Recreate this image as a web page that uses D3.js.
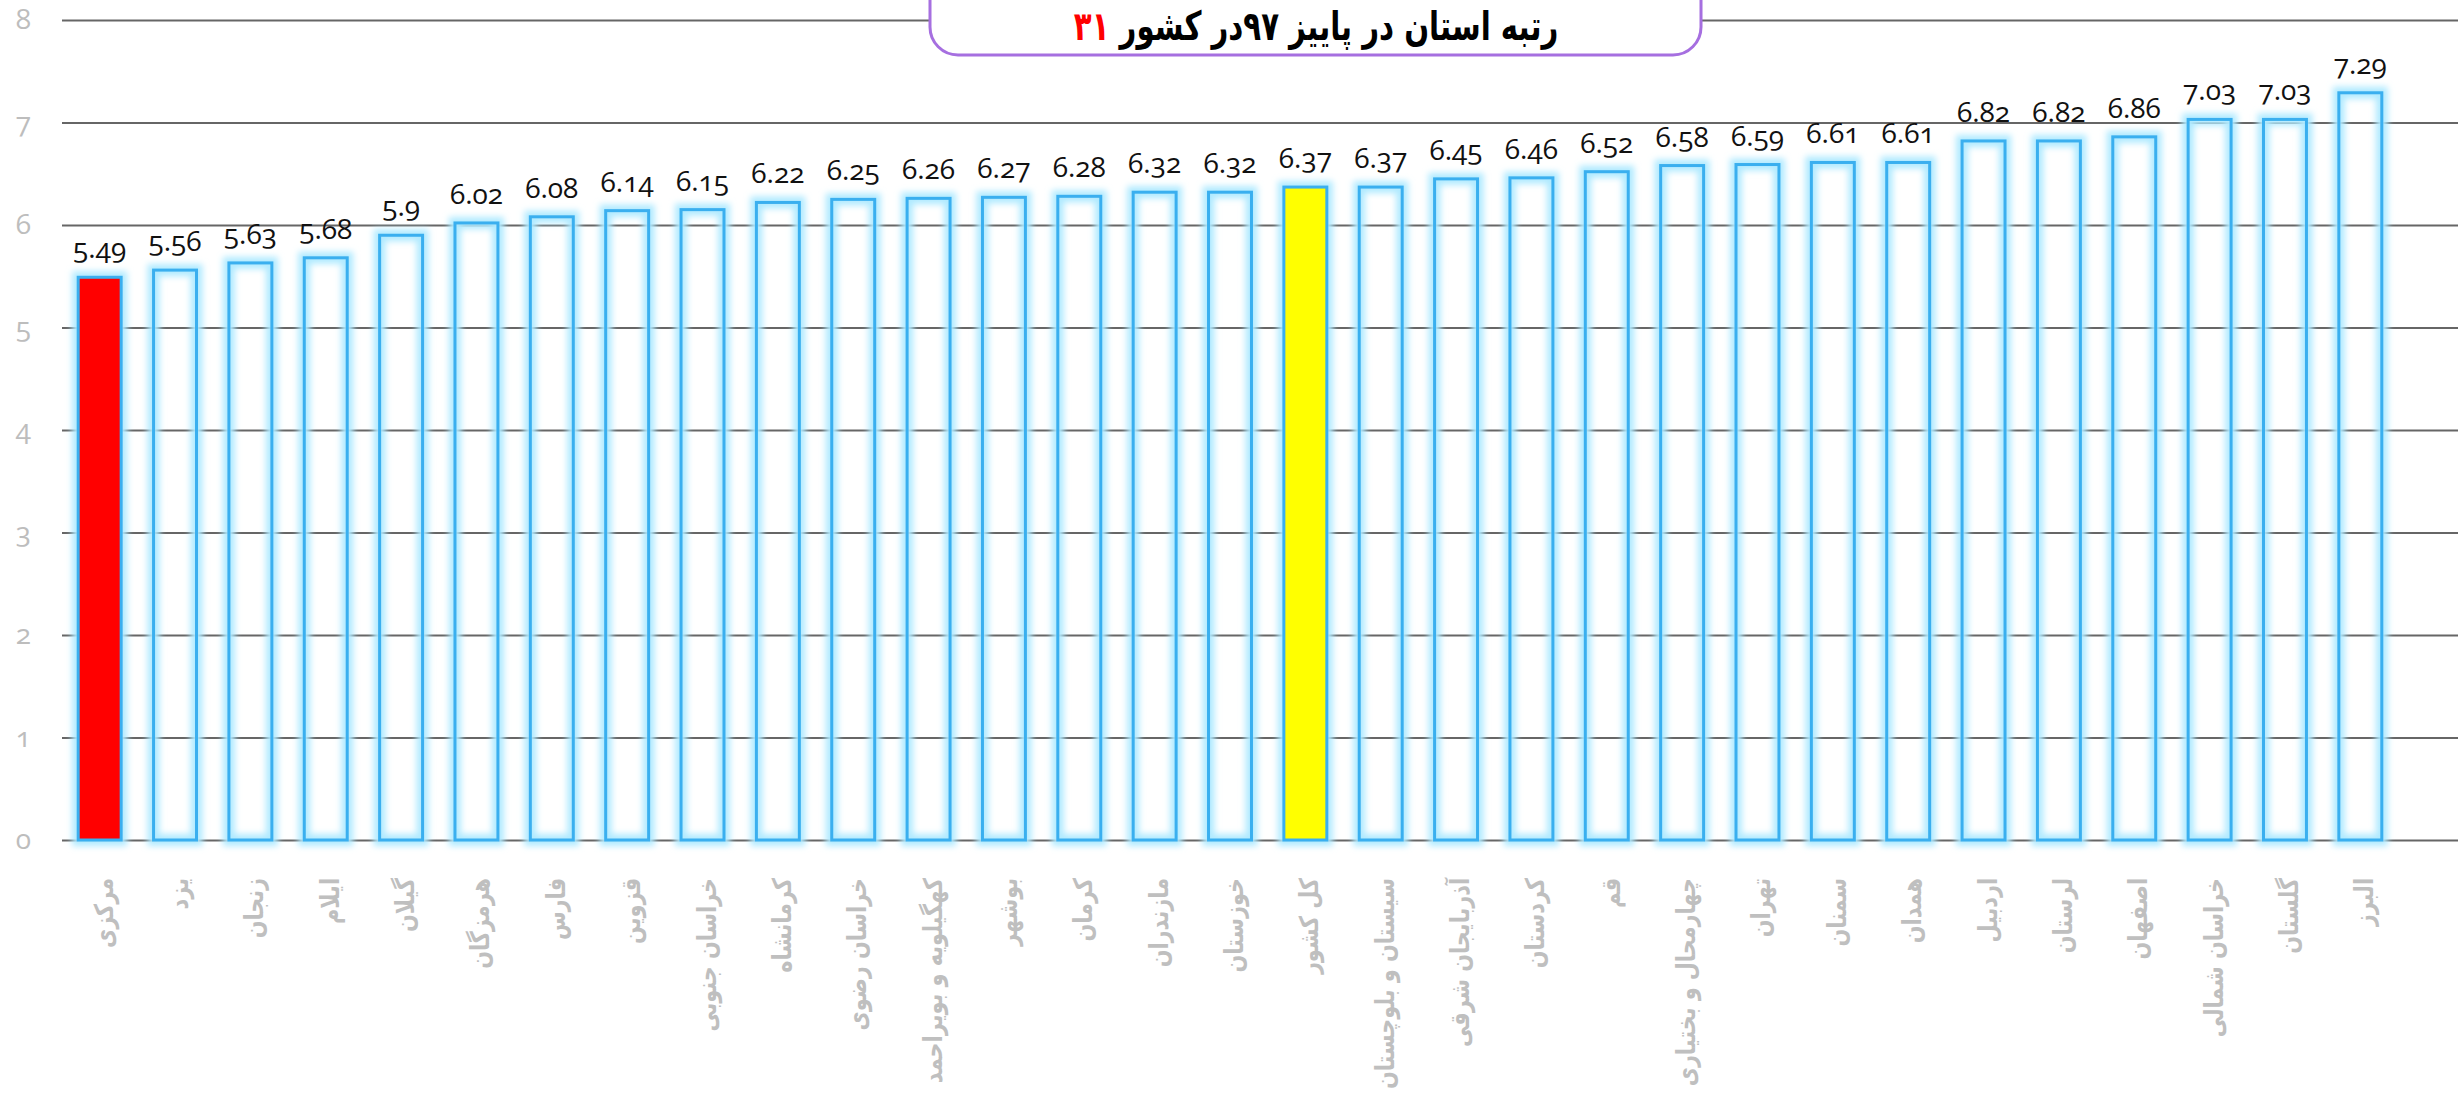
<!DOCTYPE html>
<html>
<head>
<meta charset="utf-8">
<script src="https://cdn.jsdelivr.net/npm/d3@7"></script>
<style>
  body { margin: 0; background: #fff; }
  svg { display: block; }
</style>
</head>
<body>
<script>
// provinces, sorted by score (left to right)
var provinces = ["مرکزی", "یزد", "زنجان", "ایلام", "گیلان", "هرمزگان", "فارس", "قزوین",
  "خراسان جنوبی", "کرمانشاه", "خراسان رضوی", "کهگیلویه و بویراحمد", "بوشهر", "کرمان",
  "مازندران", "خوزستان", "کل کشور", "سیستان و بلوچستان", "آذربایجان شرقی", "کردستان", "قم",
  "چهارمحال و بختیاری", "تهران", "سمنان", "همدان", "اردبیل", "لرستان", "اصفهان",
  "خراسان شمالی", "گلستان", "البرز"];

var scores = [5.49, 5.56, 5.63, 5.68, 5.9, 6.02, 6.08, 6.14, 6.15, 6.22, 6.25, 6.26, 6.27,
  6.28, 6.32, 6.32, 6.37, 6.37, 6.45, 6.46, 6.52, 6.58, 6.59, 6.61, 6.61, 6.82, 6.82, 6.86,
  7.03, 7.03, 7.29];

var yTicks = [0, 1, 2, 3, 4, 5, 6, 7, 8];

var titleMain = "رتبه استان در پاییز ۹۷در کشور ";
var titleRank = "۳۱";

window.onload = function(){

	var w = 2458, h = 1100;
	var left = 62, plotRight = 2398, plotTop = 20, plotBottom = 840;

	var data = provinces.map(function(p, i){
		return {name: p, value: scores[i]};
	});

	var svg = d3.select("body")
		.append("svg")
		.attr("width", w)
		.attr("height", h);

	var defs = svg.append("defs");
	var glow = defs.append("filter")
		.attr("id", "glow")
		.attr("x", "-50%").attr("y", "-10%")
		.attr("width", "200%").attr("height", "120%");
	glow.append("feGaussianBlur")
		.attr("stdDeviation", 3);

	var x = d3.scaleBand()
		.domain(provinces)
		.range([left, plotRight])
		.paddingInner(0.43)
		.paddingOuter(0.215);

	var y = d3.scaleLinear()
		.domain([0, 8])
		.range([plotBottom, plotTop]);

	// y axis + gridlines
	var yAxis = d3.axisLeft(y)
		.tickValues(yTicks)
		.tickSize(-(w - left))
		.tickPadding(31)
		.tickFormat(d3.format("d"));

	var yg = svg.append("g")
		.attr("class", "y axis")
		.attr("transform", "translate(" + left + ",0)")
		.call(yAxis);
	yg.select(".domain").remove();
	yg.selectAll("line")
		.attr("stroke", "#666")
		.attr("stroke-width", 2);
	yg.selectAll("text")
		.attr("fill", "#bdbdbd")
		.style("font-family", "'Open Sans', sans-serif")
		.style("font-feature-settings", "'onum' 1")
		.style("font-size", "28px");

	// glow behind the bars
	svg.append("g").selectAll("rect")
		.data(data)
		.enter()
		.append("rect")
		.attr("x", function(d){ return x(d.name); })
		.attr("y", function(d){ return y(d.value); })
		.attr("width", x.bandwidth())
		.attr("height", function(d){ return plotBottom - y(d.value); })
		.attr("fill", "none")
		.attr("stroke", "#b0eaff")
		.attr("stroke-width", 12)
		.attr("filter", "url(#glow)");

	function barFill(d){
		if (d.name == "مرکزی") return "#ff0000";
		if (d.name == "کل کشور") return "#ffff00";
		return "none";
	}

	svg.append("g").selectAll("rect")
		.data(data)
		.enter()
		.append("rect")
		.attr("class", "bar")
		.attr("x", function(d){ return x(d.name); })
		.attr("y", function(d){ return y(d.value); })
		.attr("width", x.bandwidth())
		.attr("height", function(d){ return plotBottom - y(d.value); })
		.attr("fill", barFill)
		.attr("stroke", "#3aafef")
		.attr("stroke-width", 3);

	// value labels
	svg.append("g").selectAll("text")
		.data(data)
		.enter()
		.append("text")
		.attr("x", function(d){ return x(d.name) + x.bandwidth() / 2; })
		.attr("y", function(d){ return y(d.value) - 19; })
		.attr("text-anchor", "middle")
		.style("font-family", "'Open Sans', sans-serif")
		.style("font-feature-settings", "'onum' 1")
		.style("font-size", "28px")
		.attr("fill", "#111")
		.text(function(d){ return d.value; });

	// x axis (category names, rotated)
	var squeeze = 0.8;
	var xAxis = d3.axisBottom(x)
		.tickSize(0)
		.tickPadding(0);

	var xg = svg.append("g")
		.attr("class", "x axis")
		.attr("transform", "translate(0," + plotBottom + ")")
		.call(xAxis);
	xg.select(".domain").remove();
	xg.selectAll("text")
		.attr("transform", "rotate(-90) scale(" + squeeze + ",1)")
		.attr("x", -38 / squeeze)
		.attr("y", 13)
		.attr("dy", 0)
		.attr("text-anchor", "end")
		.attr("fill", "#bfbfbf")
		.style("font-family", "'DejaVu Sans', sans-serif")
		.style("font-weight", "bold")
		.style("font-size", "26px");

	// title box
	svg.append("rect")
		.attr("x", 930)
		.attr("y", -40)
		.attr("width", 771)
		.attr("height", 95)
		.attr("rx", 28)
		.attr("fill", "#fff")
		.attr("stroke", "#a66fe0")
		.attr("stroke-width", 3);

	var title = svg.append("text")
		.attr("transform", "translate(1316,40) scale(0.73,1)")
		.attr("text-anchor", "middle")
		.attr("direction", "rtl")
		.style("font-family", "'DejaVu Sans', sans-serif")
		.style("font-weight", "bold")
		.style("font-size", "40px")
		.attr("fill", "#000");
	title.append("tspan").text(titleMain);
	title.append("tspan").attr("fill", "#ff0000").text(titleRank);
};
</script>
</body>
</html>
